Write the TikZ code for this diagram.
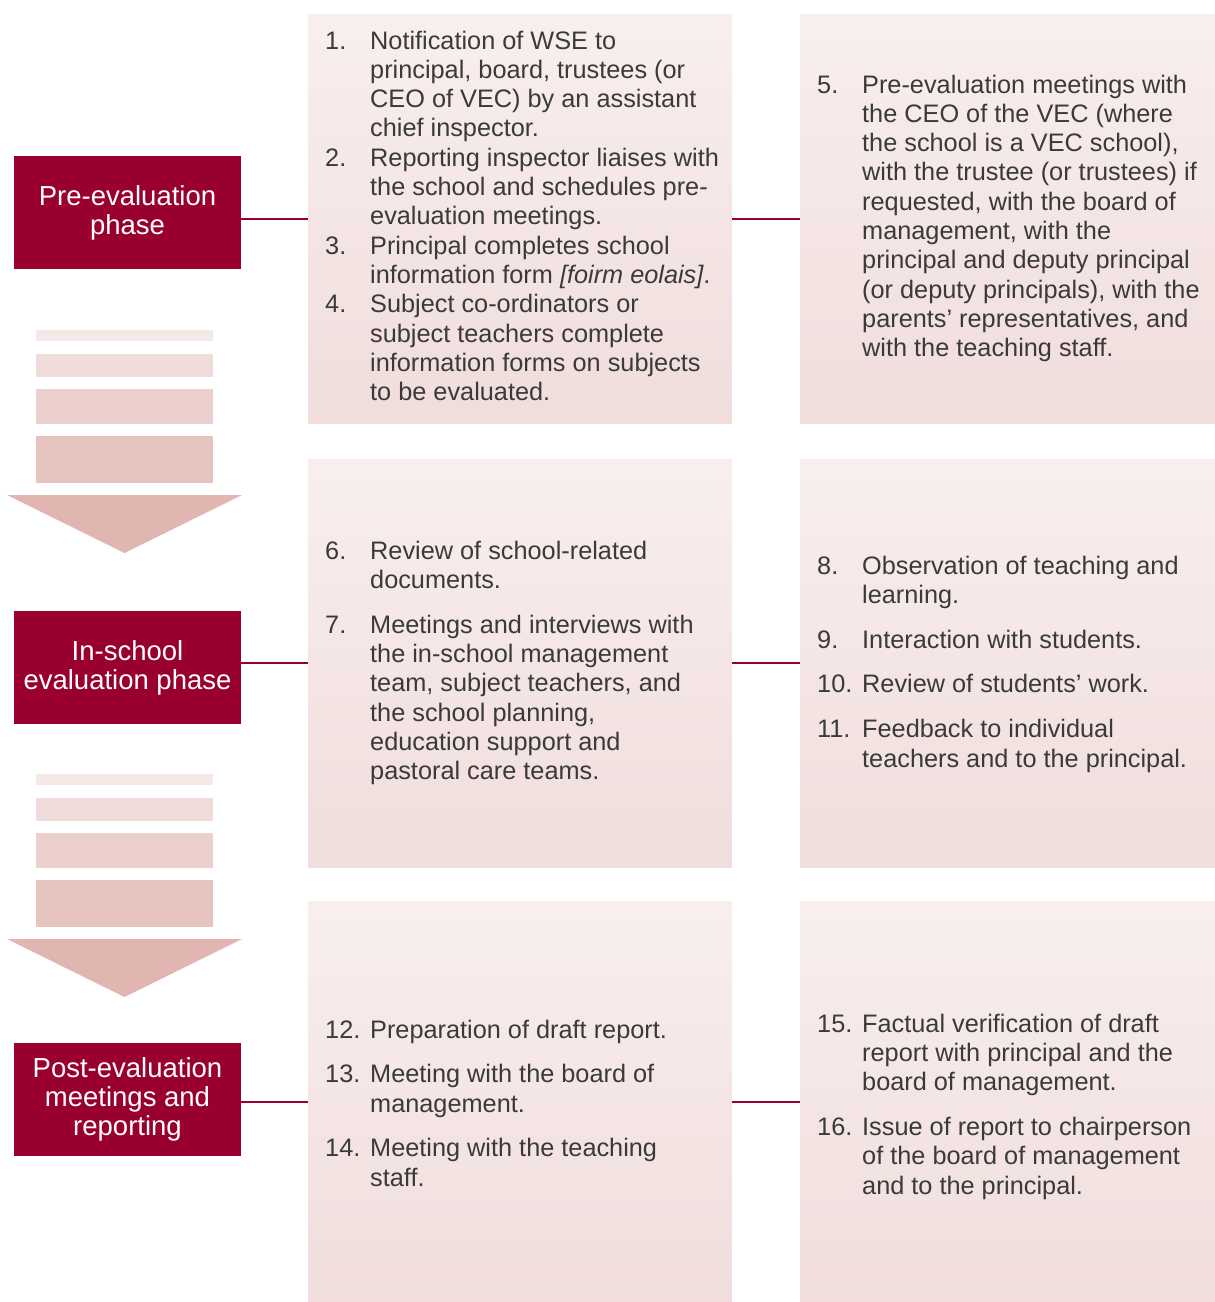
\documentclass[tikz,border=0pt]{standalone}
\usepackage{fontspec}
\setmainfont{Liberation Sans}
\definecolor{wine}{RGB}{153,0,48}
\definecolor{ink}{RGB}{58,58,58}
\definecolor{paneltop}{RGB}{248,239,237}
\definecolor{panelbot}{RGB}{240,221,220}
\definecolor{bandA}{RGB}{245,233,231}
\definecolor{bandB}{RGB}{240,221,219}
\definecolor{bandC}{RGB}{235,208,205}
\definecolor{bandD}{RGB}{229,196,192}
\definecolor{bandE}{RGB}{225,182,177}
% one numbered entry with a hanging indent; lines are broken with \brk
\newcommand\brk{\newline}
\newcommand\stepitem[2]{\par\hangindent=45pt\hangafter=1\noindent\makebox[45pt][l]{#1}#2\par}
\newcommand\stepblock[2]{\parbox[t]{440pt}{\fontsize{25.3}{29.3}\selectfont\parindent=0pt\parskip=#1#2}}
% the fading arrow between two phases
\newcommand\fadearrow[1]{%
  \fill[bandA] (36,#1) rectangle (213,#1+11);
  \fill[bandB] (36,#1+24) rectangle (213,#1+47);
  \fill[bandC] (36,#1+59) rectangle (213,#1+94);
  \fill[bandD] (36,#1+106) rectangle (213,#1+153);
  \fill[bandE] (7,#1+165) -- (242,#1+165) -- (124.5,#1+223) -- cycle;}
\begin{document}
\begin{tikzpicture}[x=1pt,y=-1pt,
  phase/.style={fill=wine, text=white, minimum width=227pt, minimum height=113pt,
    inner sep=0pt, align=center, font=\fontsize{27.5}{29}\selectfont},
  panel/.style={anchor=north west, top color=paneltop, bottom color=panelbot,
    draw=none, inner sep=0pt},
  link/.style={draw=wine, line width=2pt},
  txt/.style={anchor=base west, inner sep=0pt, text=ink}]
\useasboundingbox (0,0) rectangle (1215,1302);

% panels
\node[panel, minimum width=424pt, minimum height=409pt] (p1a) at (308,14) {};
\node[panel, minimum width=415pt, minimum height=409pt] (p1b) at (800,14) {};
\node[panel, minimum width=424pt, minimum height=408pt] (p2a) at (308,459) {};
\node[panel, minimum width=415pt, minimum height=408pt] (p2b) at (800,459) {};
\node[panel, minimum width=424pt, minimum height=401pt] (p3a) at (308,901) {};
\node[panel, minimum width=415pt, minimum height=401pt] (p3b) at (800,901) {};

% phase labels
\node[phase] (pre)  at (127.5,212.5) {Pre-evaluation\\phase};
\node[phase] (ins)  at (127.5,667.5) {In-school\\evaluation phase};
\node[phase] (post) at (127.5,1099)  {Post-evaluation\\meetings and\\reporting};

% arrows between phases
\fadearrow{330}
\fadearrow{774}

% connectors
\draw[link] (p1a.west) -- (p1a.west -| pre.east);
\draw[link] (p1a.east) -- (p1b.west);
\draw[link] (p2a.west) -- (p2a.west -| ins.east);
\draw[link] (p2a.east) -- (p2b.west);
\draw[link] (p3a.west) -- (p3a.west -| post.east);
\draw[link] (p3a.east) -- (p3b.west);

% steps
\node[txt] (s1) at (325,49) {\stepblock{0pt}{%
\stepitem{1.}{Notification of WSE to\brk principal, board, trustees (or\brk CEO of VEC) by an assistant\brk chief inspector.}
\stepitem{2.}{Reporting inspector liaises with\brk the school and schedules pre-\brk evaluation meetings.}
\stepitem{3.}{Principal completes school\brk information form \textit{[foirm eolais]}.}
\stepitem{4.}{Subject co-ordinators or\brk subject teachers complete\brk information forms on subjects\brk to be evaluated.}}};

\node[txt] (s5) at (817,93) {\stepblock{0pt}{%
\stepitem{5.}{Pre-evaluation meetings with\brk the CEO of the VEC (where\brk the school is a VEC school),\brk with the trustee (or trustees) if\brk requested, with the board of\brk management, with the\brk principal and deputy principal\brk (or deputy principals), with the\brk parents’ representatives, and\brk with the teaching staff.}}};

\node[txt] (s6) at (325,559) {\stepblock{15.5pt}{%
\stepitem{6.}{Review of school-related\brk documents.}
\stepitem{7.}{Meetings and interviews with\brk the in-school management\brk team, subject teachers, and\brk the school planning,\brk education support and\brk pastoral care teams.}}};

\node[txt] (s8) at (817,574) {\stepblock{15.5pt}{%
\stepitem{8.}{Observation of teaching and\brk learning.}
\stepitem{9.}{Interaction with students.}
\stepitem{10.}{Review of students’ work.}
\stepitem{11.}{Feedback to individual\brk teachers and to the principal.}}};

\node[txt] (s12) at (325,1038) {\stepblock{15.5pt}{%
\stepitem{12.}{Preparation of draft report.}
\stepitem{13.}{Meeting with the board of\brk management.}
\stepitem{14.}{Meeting with the teaching\brk staff.}}};

\node[txt] (s15) at (817,1032) {\stepblock{15.5pt}{%
\stepitem{15.}{Factual verification of draft\brk report with principal and the\brk board of management.}
\stepitem{16.}{Issue of report to chairperson\brk of the board of management\brk and to the principal.}}};
\end{tikzpicture}
\end{document}
